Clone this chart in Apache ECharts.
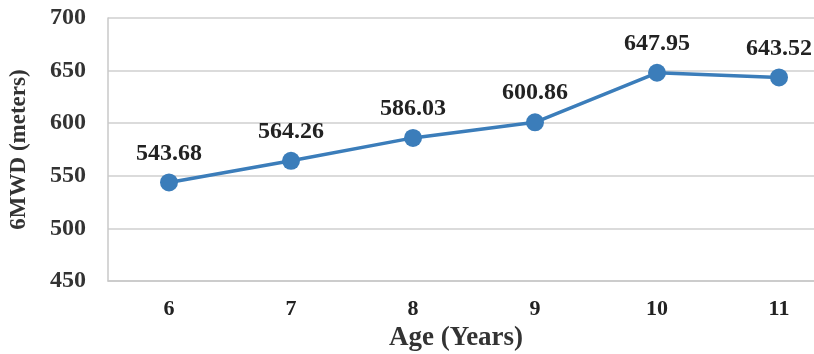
<!DOCTYPE html>
<html><head><meta charset="utf-8">
<script src="https://cdn.jsdelivr.net/npm/echarts@6/dist/echarts.min.js"></script>
<style>html,body{margin:0;padding:0;background:#fff}#c{width:814px;height:354px}</style>
</head><body><div id="c"></div>
<script>
const categories = ['6','7','8','9','10','11'];
const values = [543.68, 564.26, 586.03, 600.86, 647.95, 643.52];
const yTicks = [450, 500, 550, 600, 650, 700];

const font = '"Liberation Serif","Times New Roman",serif';
const chart = echarts.init(document.getElementById('c'));
chart.setOption({
  animation: false,
  grid: { left: 108, width: 732, top: 18, height: 263, containLabel: false, outerBoundsMode: 'none' },
  xAxis: {
    type: 'category', data: categories, boundaryGap: true,
    axisLine: { show: true, lineStyle: { color: '#c8c8c8', width: 1.5 } },
    axisTick: { show: false },
    axisLabel: { margin: 17, fontFamily: font, fontWeight: 'bold', fontSize: 22, color: '#222' }
  },
  yAxis: {
    type: 'value', min: yTicks[0], max: yTicks[yTicks.length-1], interval: 50,
    name: '6MWD (meters)', nameLocation: 'middle', nameGap: 77, nameRotate: 90,
    nameTextStyle: { fontFamily: font, fontWeight: 'bold', fontSize: 23, color: '#333' },
    axisLine: { show: true, lineStyle: { color: '#c8c8c8', width: 1.5 } },
    axisTick: { show: false },
    splitLine: { lineStyle: { color: '#cfcfcf', width: 1.5 } },
    axisLabel: { margin: 22, fontFamily: font, fontWeight: 'bold', fontSize: 24, color: '#333' }
  },
  graphic: [{
    type: 'text', x: 456, y: 338,
    style: { text: 'Age (Years)', font: 'bold 27px ' + font, fill: '#333', textAlign: 'center', textVerticalAlign: 'middle' }
  }],
  series: [{
    type: 'line', data: values,
    symbol: 'circle', symbolSize: 18,
    lineStyle: { color: '#3b7dba', width: 3.5 },
    itemStyle: { color: '#3b7dba' },
    label: { show: true, position: 'top', distance: 8, formatter: p => p.value.toFixed(2),
      fontFamily: font, fontWeight: 'bold', fontSize: 24, color: '#222' }
  }]
});
</script></body></html>
